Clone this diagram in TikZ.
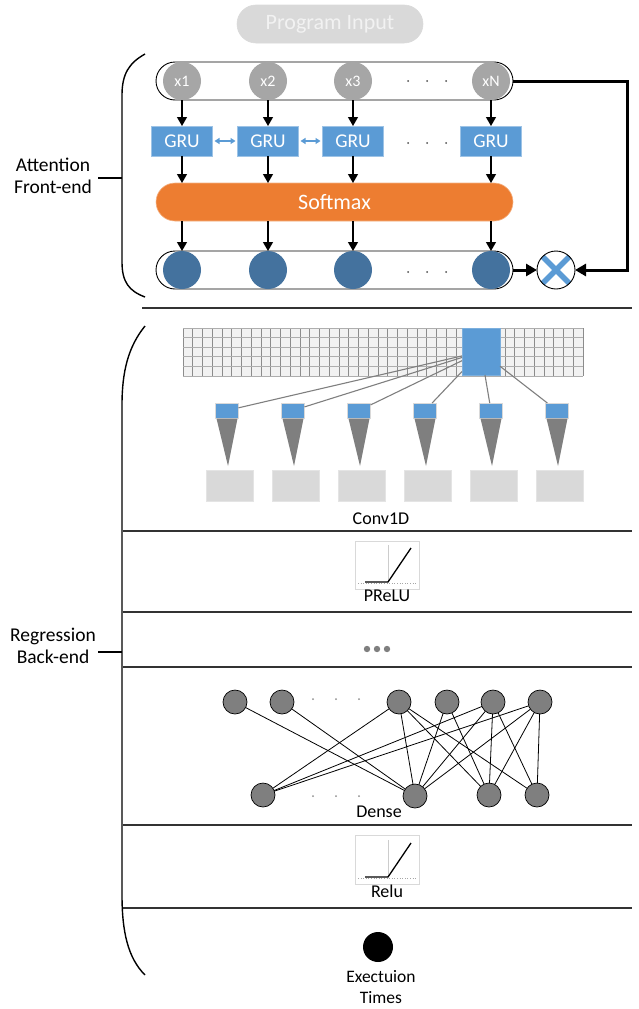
\documentclass[tikz,border=0pt]{standalone}
\usepackage{fontspec}
\setmainfont{Carlito}
\usetikzlibrary{arrows.meta,calc}
\definecolor{accblue}{HTML}{5B9BD5}
\definecolor{deepblue}{HTML}{44729E}
\definecolor{orng}{HTML}{ED7D31}
\definecolor{midgray}{HTML}{7F7F7F}
\definecolor{tokgray}{HTML}{A6A6A6}
\definecolor{palegray}{HTML}{D9D9D9}
\definecolor{gridfill}{HTML}{F2F2F2}
\definecolor{gridline}{HTML}{8C8C8C}
\begin{document}
\begin{tikzpicture}[x=1pt,y=-1pt,
  every node/.style={inner sep=0pt,outer sep=0pt},
  pill/.style={draw=black,line width=0.9pt,fill=white,rounded corners=19pt,minimum width=357pt,minimum height=38pt},
  tok/.style={circle,fill=tokgray,minimum size=38pt,text=white,font=\fontsize{16}{16}\selectfont},
  grubox/.style={rectangle,fill=accblue,draw=accblue!60!white,line width=0.6pt,minimum width=61pt,minimum height=30pt,text=white,font=\fontsize{19.5}{19.5}\selectfont},
  wt/.style={circle,fill=deepblue,minimum size=38pt},
  arr/.style={line width=1.3pt,-{Triangle[length=9pt,width=10pt]}},
  heavyarr/.style={line width=3pt,-{Triangle[length=11pt,width=12pt]}},
  biarr/.style={accblue,line width=1.6pt,{Triangle[length=5pt,width=6pt]}-{Triangle[length=5pt,width=6pt]}},
  bracketln/.style={line width=1.4pt},
  sepline/.style={line width=1.4pt,draw=black!80},
  layertext/.style={font=\fontsize{18}{18}\selectfont},
  sidetext/.style={align=center,font=\fontsize{19.5}{22}\selectfont},
  kern/.style={rectangle,fill=accblue,draw=palegray,line width=0.6pt,minimum width=23pt,minimum height=15pt},
  fmap/.style={rectangle,fill=palegray,draw=palegray!70!white,line width=0.8pt,minimum width=47pt,minimum height=31pt},
  link/.style={draw=midgray,line width=1.1pt},
  neuron/.style={circle,fill=midgray,draw=black,line width=0.7pt,minimum size=24pt},
  edge/.style={line width=0.8pt},
  plotbox/.style={rectangle,draw=palegray,line width=0.6pt,minimum width=64pt,minimum height=48pt},
  smalldot/.style={fill=black!70}
]
\useasboundingbox (0,0) rectangle (638,1009);

% ---------- program input ----------
\node[rectangle,rounded corners=19pt,fill=palegray,draw=black!15,line width=0.6pt,
      minimum width=186pt,minimum height=38pt,text=gridfill,
      font=\fontsize{22}{22}\selectfont] (pin) at (330,24) {Program Input};

% ---------- attention front-end ----------
\node[pill] (ip) at (334.5,81) {};
\node[tok] (x1) at (182,81) {x1};
\node[tok] (x2) at (268,81) {x2};
\node[tok] (x3) at (353,81) {x3};
\node[tok] (xN) at (491,81) {xN};
\foreach \dx in {-19,0,19} \fill[smalldot] ($(427,81)+(\dx,0)$) circle (1pt);

\node[grubox] (g1) at (182,141) {GRU};
\node[grubox] (g2) at (268,141) {GRU};
\node[grubox] (g3) at (353,141) {GRU};
\node[grubox] (gN) at (491,141) {GRU};
\foreach \dx in {-19,0,19} \fill[smalldot] ($(427,143)+(\dx,0)$) circle (1pt);
\draw[biarr] ([xshift=2pt]g1.east) -- ([xshift=-2pt]g2.west);
\draw[biarr] ([xshift=2pt]g2.east) -- ([xshift=-2pt]g3.west);

\foreach \a/\b in {x1/g1,x2/g2,x3/g3,xN/gN} \draw[arr] (\a) -- (\b);

\node[rectangle,rounded corners=19pt,fill=orng,draw=orng!60!white,line width=0.6pt,
      minimum width=357pt,minimum height=38pt,text=white,
      font=\fontsize{22}{22}\selectfont] (sm) at (334.5,202) {Softmax};
\foreach \g in {g1,g2,g3,gN} \draw[arr] (\g) -- (\g |- sm.north);

\node[pill] (bp) at (334.5,270) {};
\node[wt] (a1) at (182,270) {};
\node[wt] (a2) at (268,270) {};
\node[wt] (a3) at (353,270) {};
\node[wt] (aN) at (491,270) {};
\foreach \dx in {-19,0,19} \fill[smalldot] ($(427,272)+(\dx,0)$) circle (1pt);
\foreach \a in {a1,a2,a3,aN} \draw[arr] (sm.south -| \a) -- (\a.north);

\node[circle,draw=black,fill=white,line width=0.9pt,minimum size=38pt,
      path picture={\draw[accblue,line width=5.5pt]
        ([shift={(4pt,-4pt)}]path picture bounding box.north west) -- ([shift={(-4pt,4pt)}]path picture bounding box.south east)
        ([shift={(-4pt,-4pt)}]path picture bounding box.north east) -- ([shift={(4pt,4pt)}]path picture bounding box.south west);}]
  (mul) at (556,270) {};
\draw[heavyarr] (bp.east) -- (mul.west);
\coordinate (fb) at (627,81);
\draw[heavyarr] (ip.east) -- (fb) |- (mul.east);

% bracket and label of the front-end
\draw[bracketln] (145,54) .. controls (129,63) and (122,74) .. (122,95)
  -- (122,262) .. controls (122,282) and (129,291) .. (145,297);
\coordinate (fetick) at (122,178);
\node[sidetext] (fe) at (53,176) {Attention\\Front-end};
\draw[bracketln] (fetick) -- ++(-24,0);
\draw[sepline] (142,308) -- (632,308);

% ---------- regression back-end ----------
\draw[bracketln] (145,326) .. controls (128,347) and (122,372) .. (122,405)
  -- (122,895) .. controls (122,932) and (128,958) .. (145,975);
\coordinate (betick) at (122,652);
\node[sidetext] (be) at (53,646) {Regression\\Back-end};
\draw[bracketln] (betick) -- ++(-24,0);

% convolution input grid
\fill[gridfill] (183,328) rectangle (583,376);
\foreach \i in {0,...,41} \draw[gridline,line width=0.9pt] ({183+\i*9.756},328) -- ++(0,48);
\foreach \j in {0,...,5} \draw[gridline!70!white,line width=0.9pt] (183,{328+\j*9.6}) -- ++(400,0);
\node[rectangle,fill=accblue,draw=accblue!80!white,minimum width=38pt,minimum height=47pt] (win) at (481,351.5) {};

\foreach \n/\xx in {1/227,2/293,3/359,4/425,5/491,6/557} {
  \node[kern] (k\n) at (\xx,410.5) {};
  \fill[midgray] ($(k\n.south)+(-10.5,0.5)$) -- ($(k\n.south)+(10.5,0.5)$) -- ($(k\n.south)+(1,48)$) -- cycle;
  \node[fmap] (m\n) at ({\xx+2.5},485.5) {};
  \draw[link] (win) -- (k\n);
}
\node[layertext] (conv) at (381,519) {Conv1D};
\draw[sepline] (123,531) -- (632,531);

% PReLU activation
\node[plotbox] (pr) at (387,565) {};
\draw[black!20,line width=0.5pt] (388,545) -- (388,582);
\draw[black!35,line width=0.6pt,dotted] (358,583) -- (416,583);
\draw[line width=1.3pt] (365,582) -- (388,582) -- (411,548);
\node[layertext] (prl) at (387,596) {PReLU};
\draw[sepline] (123,612) -- (632,612);

% further layers
\foreach \dx in {-10,0,10} \fill[midgray] ($(377,649)+(\dx,0)$) circle (3.2pt);
\draw[sepline] (123,667) -- (632,667);

% dense layer
\node[neuron] (t1) at (235,702) {};
\node[neuron] (t2) at (282,702) {};
\node[neuron] (t3) at (399,702) {};
\node[neuron] (t4) at (447,702) {};
\node[neuron] (t5) at (493,702) {};
\node[neuron] (t6) at (540,702) {};
\node[neuron] (b1) at (263,795) {};
\node[neuron] (b2) at (415,796) {};
\node[neuron] (b3) at (489,795) {};
\node[neuron] (b4) at (537,795) {};
\foreach \dx in {-23,0,23} {
  \fill[black!45] ($(336,699)+(\dx,0)$) circle (1pt);
  \fill[black!45] ($(336,796)+(\dx,0)$) circle (1pt);
}
\foreach \a/\b in {t1/b2,t2/b2,t3/b1,t3/b2,t3/b3,t3/b4,t4/b2,t4/b3,
                   t5/b1,t5/b2,t5/b3,t5/b4,t6/b1,t6/b2,t6/b3,t6/b4}
  \draw[edge] (\a) -- (\b);
\node[layertext] (dn) at (379,812) {Dense};
\draw[sepline] (123,825) -- (632,825);

% ReLU activation
\node[plotbox,minimum height=49pt] (rl) at (387,859.5) {};
\draw[black!20,line width=0.5pt] (388,840) -- (388,877);
\draw[black!35,line width=0.6pt,dotted] (358,878) -- (416,878);
\draw[line width=1.3pt] (365,877) -- (388,877) -- (411,843);
\node[layertext] (rll) at (387,891) {Relu};
\draw[sepline] (123,908) -- (632,908);

% output
\node[circle,fill=black,minimum size=30pt] (out) at (378,947) {};
\node[align=center,font=\fontsize{17.5}{21.5}\selectfont] (outl) at (381,987) {Exectuion\\Times};
\end{tikzpicture}
\end{document}
